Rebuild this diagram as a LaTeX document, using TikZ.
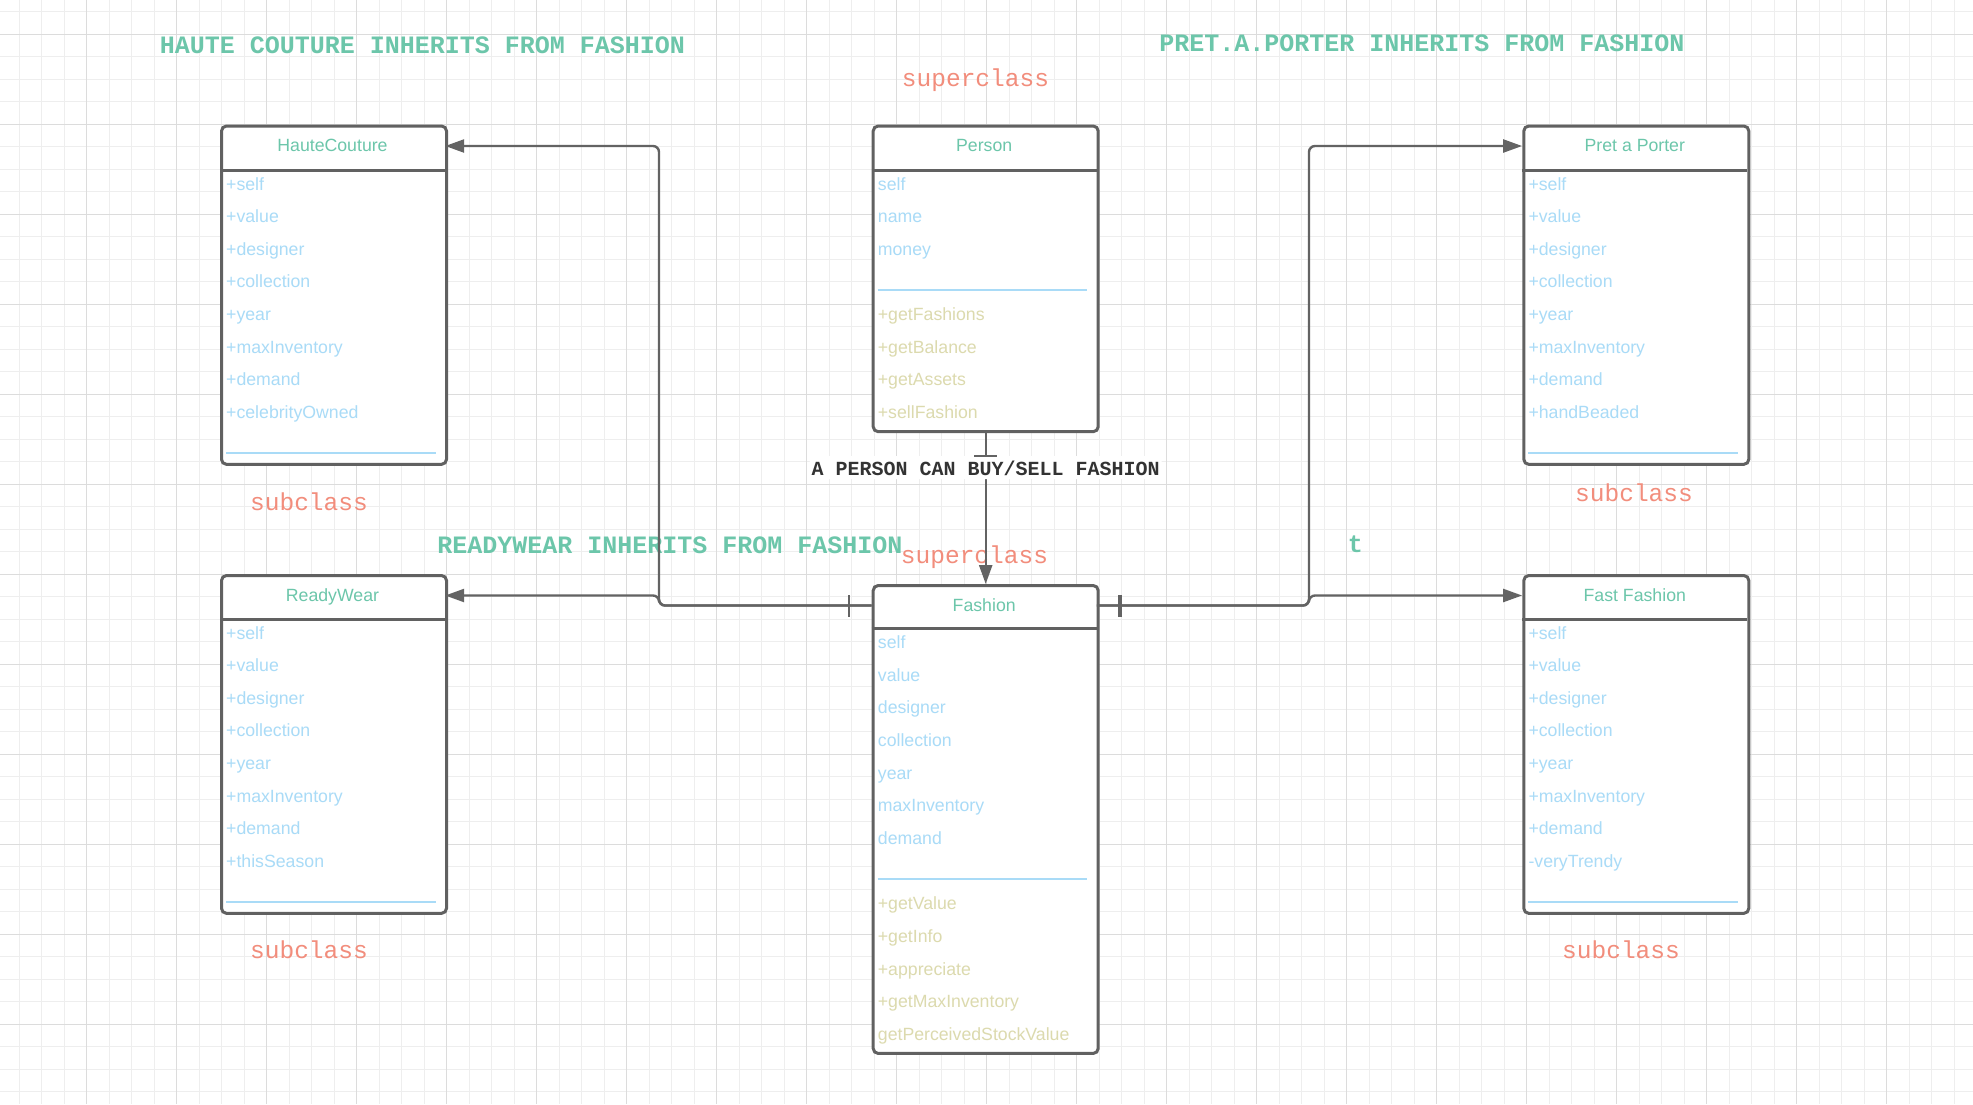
\documentclass[tikz,border=0pt]{standalone}
\usepackage{fontspec}
\setmainfont{Liberation Sans}
\newfontfamily\monof{Liberation Mono}
\usetikzlibrary{arrows.meta,calc}

\definecolor{titlegreen}{HTML}{6CC6AA}
\definecolor{attrblue}{HTML}{A9DBF7}
\definecolor{methkhaki}{HTML}{DCDAAE}
\definecolor{rolesalmon}{HTML}{F28D7C}
\definecolor{boxgray}{HTML}{616161}
\definecolor{linegray}{HTML}{636363}
\definecolor{darktxt}{HTML}{333333}
\definecolor{gridmin}{HTML}{EEEEEE}
\definecolor{gridmaj}{HTML}{DCDCDC}

\tikzset{
 classbox/.style={draw=boxgray, line width=3pt, fill=white, rounded corners=5pt, minimum width=225pt, inner sep=0pt, anchor=north west},
 headtxt/.style={minimum width=225pt, minimum height=43pt, inner sep=0pt, text height=11pt, text depth=0pt, text=titlegreen, font=\fontsize{17.7}{20}\selectfont},
 attr/.style={anchor=base west, inner sep=0pt, text=attrblue, font=\fontsize{17.7}{20}\selectfont},
 meth/.style={attr, text=methkhaki},
 headsep/.style={draw=boxgray, line width=3pt},
 bluesep/.style={draw=attrblue, line width=1.5pt},
 conn/.style={draw=linegray, line width=2.4pt, rounded corners=6pt},
 tipA/.style={-{Triangle[length=19pt,width=13pt]}},
 tickmark/.style={draw=linegray, line width=2.4pt},
 bigtitle/.style={anchor=base, inner sep=0pt, text=titlegreen, font=\monof\bfseries\fontsize{25}{28}\selectfont},
 roletxt/.style={anchor=base, inner sep=0pt, text=rolesalmon, font=\monof\fontsize{24.5}{28}\selectfont},
 lbl/.style={fill=white, inner sep=2pt, text height=17pt, text depth=2pt, text=darktxt, font=\monof\bfseries\fontsize{20}{24}\selectfont},
 gridminor/.style={draw=gridmin, line width=1pt},
 gridmajor/.style={draw=gridmaj, line width=1pt},
}

% #1 id, #2 left, #3 top, #4 header separator y, #5 title, #6 attributes, #7 number of attributes, #8 total rows
\newcommand{\umlclass}[8]{%
  \pgfmathsetmacro\cbottom{#4+#8*32.65-1}%
  \node[classbox, minimum height={\cbottom-#3}] (#1) at (#2,#3) {};
  \node[headtxt] (#1T) at ({#2+112.5},{#3+21.5}) {#5};
  \draw[headsep] (#2,#4) -- ({#2+225},#4);
  \foreach \t [count=\i from 0] in {#6}
    \node[attr] (#1a\i) at ({#2+6},{#4+20+32.65*\i}) {\t};
  \draw[bluesep] ({#2+6},{#4+22+32.65*#7}) -- ({#2+215.5},{#4+22+32.65*#7});
}

\begin{document}
\begin{tikzpicture}[x=1pt,y=-1pt]
\useasboundingbox (0,0) rectangle (1973,1104);
\fill[white] (0,0) rectangle (1973,1104);

% grid
\foreach \x in {19.2,41.7,...,1973} \draw[gridminor] (\x,0) -- (\x,1104);
\foreach \y in {11.8,34.3,...,1104} \draw[gridminor] (0,\y) -- (1973,\y);
\foreach \x in {86.7,176.7,...,1973} \draw[gridmajor] (\x,0) -- (\x,1104);
\foreach \y in {34.3,124.3,...,1104} \draw[gridmajor] (0,\y) -- (1973,\y);

% free texts
\node[bigtitle] (titleHC) at (422.5,53.3) {HAUTE COUTURE INHERITS FROM FASHION};
\node[bigtitle] (titlePR) at (1422,51.7) {PRET.A.PORTER INHERITS FROM FASHION};
\node[bigtitle] (titleRW) at (670,553.3) {READYWEAR INHERITS FROM FASHION};
\node[bigtitle] (titleT) at (1355.3,552.7) {t};
\node[roletxt] (superA) at (975.5,86) {superclass};
\node[roletxt] (superB) at (974.5,563.3) {superclass};
\node[roletxt] (subHC) at (309,510.5) {subclass};
\node[roletxt] (subPR) at (1634,501) {subclass};
\node[roletxt] (subRW) at (309,958.3) {subclass};
\node[roletxt] (subFF) at (1621,958.3) {subclass};

% classes
\umlclass{hc}{220}{124.5}{170}{HauteCouture}{+self,+value,+designer,+collection,+year,+maxInventory,+demand,+celebrityOwned}{8}{9}
\umlclass{person}{871.7}{124.5}{170}{Person}{self,name,money}{3}{8}
\umlclass{pr}{1522.3}{124.5}{170}{Pret a Porter}{+self,+value,+designer,+collection,+year,+maxInventory,+demand,+handBeaded}{8}{9}
\umlclass{rw}{220}{574}{619}{ReadyWear}{+self,+value,+designer,+collection,+year,+maxInventory,+demand,+thisSeason}{8}{9}
\umlclass{fashion}{871.7}{584}{628.5}{Fashion}{self,value,designer,collection,year,maxInventory,demand}{7}{13}
\umlclass{ff}{1522.3}{574}{619}{Fast Fashion}{+self,+value,+designer,+collection,+year,+maxInventory,+demand,-veryTrendy}{8}{9}

\foreach \t [count=\i from 4] in {+getFashions,+getBalance,+getAssets,+sellFashion}
  \node[meth] (personm\i) at (877.7,{190+32.65*\i}) {\t};
\foreach \t [count=\i from 8] in {+getValue,+getInfo,+appreciate,+getMaxInventory,getPerceivedStockValue}
  \node[meth] (fashionm\i) at (877.7,{648.5+32.65*\i}) {\t};

% connectors
\coordinate (trunkL) at (659,0);
\coordinate (trunkR) at (1309,0);
\draw[conn, tipA] (fashionT.west) -| (trunkL |- hcT.east) -- (hcT.east);
\draw[conn, tipA] (fashionT.west) -| (trunkL |- rwT.east) -- (rwT.east);
\draw[conn, tipA] (fashionT.east) -| (trunkR |- prT.west) -- (prT.west);
\draw[conn, tipA] (fashionT.east) -| (trunkR |- ffT.west) -- (ffT.west);
\draw[conn, tipA] (person.south) -- node[lbl, pos=0.228] (buysell) {A PERSON CAN BUY/SELL FASHION} (fashion.north);

% multiplicity ticks
\draw[tickmark] ([xshift=-22.5pt,yshift=-11pt]fashionT.west) -- ([xshift=-22.5pt,yshift=11pt]fashionT.west);
\draw[tickmark, line width=3.6pt] ([xshift=23pt,yshift=-11pt]fashionT.east) -- ([xshift=23pt,yshift=11pt]fashionT.east);
\draw[tickmark] ([xshift=-11.5pt,yshift=-23pt]person.south) -- ([xshift=11.5pt,yshift=-23pt]person.south);
\end{tikzpicture}
\end{document}
